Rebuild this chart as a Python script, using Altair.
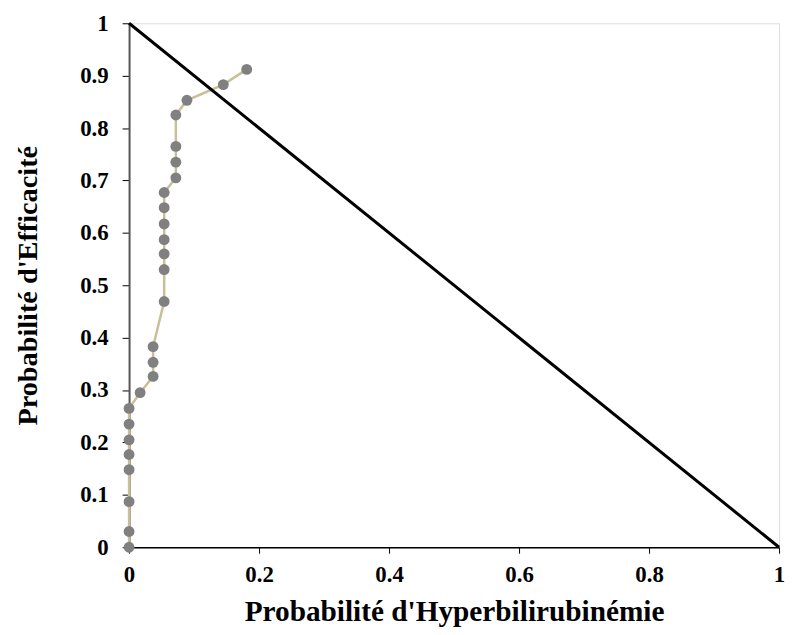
import altair as alt
import pandas as pd

x_hyper = [0.181, 0.145, 0.089, 0.072, 0.072, 0.072, 0.072, 0.054, 0.054, 0.054,
           0.054, 0.054, 0.054, 0.054, 0.037, 0.037, 0.037, 0.017, 0.0, 0.0,
           0.0, 0.0, 0.0, 0.0, 0.0, 0.0]
y_eff = [0.912, 0.883, 0.853, 0.825, 0.765, 0.735, 0.705, 0.677, 0.648, 0.617,
         0.587, 0.560, 0.530, 0.469, 0.383, 0.353, 0.326, 0.295, 0.265, 0.235,
         0.205, 0.177, 0.148, 0.087, 0.030, 0.0]
diag_x = [0.0, 1.0]
diag_y = [1.0, 0.0]

df = pd.DataFrame({"x": x_hyper, "y": y_eff, "order": list(range(len(x_hyper)))})
dd = pd.DataFrame({"x": diag_x, "y": diag_y})

font = "Liberation Serif"

xs = alt.Scale(domain=[0, 1], nice=False, zero=True)
ys = alt.Scale(domain=[0, 1], nice=False, zero=True)

xaxis = alt.Axis(values=[0, 0.2, 0.4, 0.6, 0.8, 1], format="~g", grid=False,
                 title="Probabilité d'Hyperbilirubinémie", labelFont=font, labelFontSize=23,
                 labelFontWeight="bold", labelColor="black", titleFont=font, titleFontSize=29.5,
                 titleFontWeight="bold", titleColor="black", domainColor="black",
                 domainWidth=1.5, tickColor="black", tickSize=6, labelPadding=11,
                 titlePadding=11, labelFlush=False)
yaxis = alt.Axis(values=[0, 0.1, 0.2, 0.3, 0.4, 0.5, 0.6, 0.7, 0.8, 0.9, 1], format="~g",
                 grid=False, title="Probabilité d'Efficacité", labelFont=font, labelFontSize=23,
                 labelFontWeight="bold", labelColor="black", titleFont=font, titleFontSize=28.5,
                 titleFontWeight="bold", titleColor="black", domainColor="#555555",
                 domainWidth=2, tickColor="black", tickSize=7, labelPadding=14,
                 titlePadding=38, labelFlush=False)

line = alt.Chart(df).mark_line(color="#c9bf97", strokeWidth=2.5).encode(
    x=alt.X("x:Q", scale=xs, axis=xaxis),
    y=alt.Y("y:Q", scale=ys, axis=yaxis),
    order="order:Q",
)
pts = alt.Chart(df).mark_circle(color="#808080", size=120, opacity=1).encode(
    x=alt.X("x:Q", scale=xs), y=alt.Y("y:Q", scale=ys)
)
diag = alt.Chart(dd).mark_line(color="black", strokeWidth=3).encode(
    x=alt.X("x:Q", scale=xs), y=alt.Y("y:Q", scale=ys)
)

chart = alt.layer(line, pts, diag).properties(
    width=655, height=528,
    autosize=alt.AutoSizeParams(type="none"),
    padding={"left": 122, "top": 13, "right": 8, "bottom": 82},
).configure_view(stroke=None).configure(background="white")

chart.save("out.html", embed_options={"renderer": "svg", "actions": False})
